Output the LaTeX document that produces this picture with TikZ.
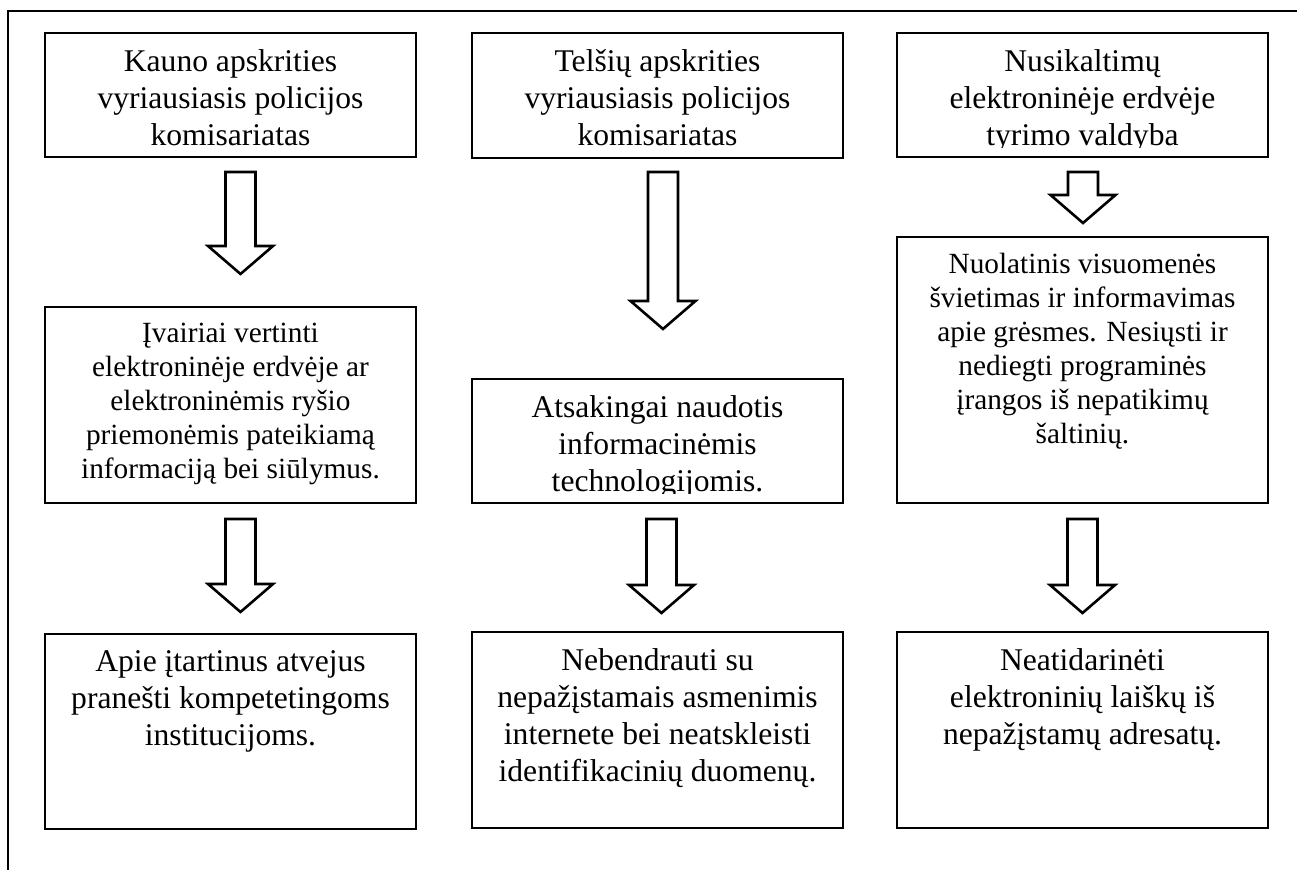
\documentclass[tikz,border=0pt]{standalone}
\usepackage{fontspec}
\setmainfont{Liberation Serif}
\usetikzlibrary{calc, positioning}

% hollow block arrow: #1 = top centre of the shaft, #2 = length to the tip
\newcommand{\blockArrow}[2]{%
	\draw[flowArrow] ($(#1)+(-15,0)$) -- ++(0,{#2-28}) -- ++(-17.5,0)
		-- ($(#1)+(0,#2)$) -- ($(#1)+(32.5,{#2-28})$) -- ++(-17.5,0)
		-- ($(#1)+(15,0)$) -- cycle;
}

\begin{document}
\begin{tikzpicture}[
			x=0.5pt, y=-0.5pt,
			% Box styles
			panel/.style={draw, line width=1pt, minimum width=185.5pt, inner sep=0pt},
			bigText/.style={align=center, inner sep=0pt, font=\fontsize{15.8pt}{18.5pt}\selectfont},
			smallText/.style={align=center, inner sep=0pt, font=\fontsize{14.65pt}{17pt}\selectfont},
			% Arrow style
			flowArrow/.style={line width=1.3pt, fill=white, line join=miter}
			]
			
			\useasboundingbox (0,0) rectangle (1297,870);
			
			% Outer frame (open at right and bottom)
			\draw[line width=1pt] (8,870) -- (8,11) -- (1297,11);
			
			% =========================================================
			% 1. KAUNO COLUMN
			% =========================================================
			
			\node[panel, minimum height=62pt] (kaunoTop) at (230.5,95) {};
			\node[bigText, below=8.8pt of kaunoTop.north] (kaunoTopTxt) {Kauno apskrities\\vyriausiasis policijos\\komisariatas};
			
			\node[panel, minimum height=98pt] (kaunoMid) at (230.5,405) {};
			\node[smallText, below=8.5pt of kaunoMid.north] (kaunoMidTxt) {Įvairiai vertinti\\elektroninėje erdvėje ar\\elektroninėmis ryšio\\priemonėmis pateikiamą\\informaciją bei siūlymus.};
			
			\node[panel, minimum height=97.5pt] (kaunoLow) at (230.5,731.5) {};
			\node[bigText, below=8.8pt of kaunoLow.north] (kaunoLowTxt) {Apie įtartinus atvejus\\pranešti kompetetingoms\\institucijoms.};
			
			\coordinate (kaunoArrowA) at ($(kaunoTop.south)+(10,14)$);
			\coordinate (kaunoArrowB) at ($(kaunoMid.south)+(10,15)$);
			\blockArrow{kaunoArrowA}{102}
			\blockArrow{kaunoArrowB}{93}
			
			% =========================================================
			% 2. TELSIU COLUMN
			% =========================================================
			
			\node[panel, minimum height=62.5pt] (telsiuTop) at (657.5,95.5) {};
			\node[bigText, below=8.8pt of telsiuTop.north] (telsiuTopTxt) {Telšių apskrities\\vyriausiasis policijos\\komisariatas};
			
			\node[panel, minimum height=62pt] (telsiuMid) at (657.5,441) {};
			\begin{scope}
				\clip ($(telsiuMid.south west)+(0,-10)$) rectangle (telsiuMid.north east);
				\node[bigText, below=8.8pt of telsiuMid.north] (telsiuMidTxt) {Atsakingai naudotis\\informacinėmis\\technologijomis.};
			\end{scope}
			
			\node[panel, minimum height=98pt] (telsiuLow) at (657.5,730) {};
			\node[bigText, below=8.8pt of telsiuLow.north] (telsiuLowTxt) {Nebendrauti su\\nepažįstamais asmenimis\\internete bei neatskleisti\\identifikacinių duomenų.};
			
			\coordinate (telsiuArrowA) at ($(telsiuTop.south)+(5.5,13)$);
			\coordinate (telsiuArrowB) at ($(telsiuMid.south)+(4,15)$);
			\blockArrow{telsiuArrowA}{157}
			\blockArrow{telsiuArrowB}{94}
			
			% =========================================================
			% 3. CYBERCRIME COLUMN
			% =========================================================
			
			\node[panel, minimum height=62pt] (cyberTop) at (1082.5,95) {};
			\begin{scope}
				\clip ($(cyberTop.south west)+(0,-10)$) rectangle (cyberTop.north east);
				\node[bigText, below=8.5pt of cyberTop.north] (cyberTopTxt) {Nusikaltimų\\elektroninėje erdvėje\\tyrimo valdyba};
			\end{scope}
			
			\node[panel, minimum height=133pt] (cyberMid) at (1082.5,370) {};
			\node[smallText, below=8.5pt of cyberMid.north] (cyberMidTxt) {Nuolatinis visuomenės\\švietimas ir informavimas\\apie grėsmes. Nesiųsti ir\\nediegti programinės\\įrangos iš nepatikimų\\šaltinių.};
			
			\node[panel, minimum height=98pt] (cyberLow) at (1082.5,730) {};
			\node[bigText, below=8.8pt of cyberLow.north] (cyberLowTxt) {Neatidarinėti\\elektroninių laiškų iš\\nepažįstamų adresatų.};
			
			\coordinate (cyberArrowA) at ($(cyberTop.south)+(0.5,14)$);
			\coordinate (cyberArrowB) at ($(cyberMid.south)+(0,15)$);
			\blockArrow{cyberArrowA}{51}
			\blockArrow{cyberArrowB}{94}
			
		\end{tikzpicture}
\end{document}
